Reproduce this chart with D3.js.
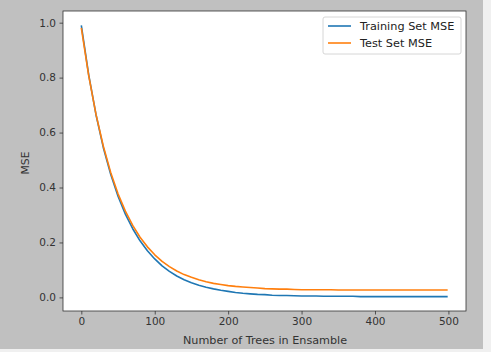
<html>
<head>
<title>mse-curves</title>
<script src="https://d3js.org/d3.v7.min.js"></script>
<style>
  body { margin: 0; background: #f0f0f0; }
  svg { display: block; }
</style>
</head>
<body>
<script>
// number of trees sampled every 10 (last point 499)
const trees = [0,10,20,30,40,50,60,70,80,90,100,110,120,130,140,150,160,170,180,190,
  200,210,220,230,240,250,260,270,280,290,300,310,320,330,340,350,360,370,380,390,
  400,410,420,430,440,450,460,470,480,490,499];
const trainMSE = [0.990,0.811,0.665,0.545,0.448,0.368,0.303,0.250,0.206,0.170,
  0.140,0.115,0.095,0.078,0.064,0.053,0.044,0.037,0.031,0.026,
  0.022,0.018,0.015,0.013,0.011,0.010,0.008,0.007,0.007,0.006,
  0.005,0.005,0.005,0.004,0.004,0.004,0.004,0.004,0.003,0.003,
  0.003,0.003,0.003,0.003,0.003,0.003,0.003,0.003,0.003,0.003,0.003];
const testMSE = [0.981,0.808,0.666,0.550,0.455,0.377,0.314,0.262,0.219,0.184,
  0.155,0.131,0.112,0.096,0.083,0.073,0.064,0.057,0.051,0.047,
  0.043,0.040,0.038,0.036,0.034,0.032,0.031,0.030,0.030,0.029,
  0.028,0.028,0.028,0.028,0.028,0.027,0.027,0.027,0.027,0.027,
  0.027,0.027,0.027,0.027,0.027,0.027,0.027,0.027,0.027,0.027,0.027];
const xTicks = [0,100,200,300,400,500];
const yTicks = [0.0,0.2,0.4,0.6,0.8,1.0];
const seriesNames = ["Training Set MSE","Test Set MSE"];
const colors = ["#1f77b4","#ff7f0e"];

const W = 491, H = 352;
const pLeft = 63, pRight = 466, pTop = 11, pBottom = 311;

const svg = d3.select("body").append("svg").attr("width", W).attr("height", H)
  .style("font-family", "DejaVu Sans, sans-serif");

svg.append("rect").attr("width", 483).attr("height", 349).attr("fill", "#c0c0c0");
svg.append("rect").attr("x", pLeft).attr("y", pTop)
  .attr("width", pRight - pLeft).attr("height", pBottom - pTop).attr("fill", "#fff");

const x = d3.scaleLinear().domain([-24.95, 523.95]).range([pLeft, pRight]);
const y = d3.scaleLinear().domain([-0.0495, 1.0425]).range([pBottom, pTop]);

const line = d3.line().x(d => x(d[0])).y(d => y(d[1]));
[trainMSE, testMSE].forEach((vals, i) => {
  svg.append("path")
    .datum(trees.map((t, j) => [t, vals[j]]))
    .attr("d", line)
    .attr("fill", "none")
    .attr("stroke", colors[i])
    .attr("stroke-width", 1.6)
    .attr("stroke-linejoin", "round");
});

const xAxis = d3.axisBottom(x).tickValues(xTicks).tickSize(3.5).tickPadding(3.5).tickFormat(d3.format("d"));
const yAxis = d3.axisLeft(y).tickValues(yTicks).tickSize(3.5).tickPadding(3.5).tickFormat(d3.format(".1f"));

const gx = svg.append("g").attr("transform", `translate(0,${pBottom})`).call(xAxis);
const gy = svg.append("g").attr("transform", `translate(${pLeft},0)`).call(yAxis);
[gx, gy].forEach(g => {
  g.select(".domain").remove();
  g.selectAll("line").attr("stroke", "#333").attr("stroke-width", 0.8);
  g.selectAll("text").attr("fill", "#333").style("font-size", "10.5px").style("font-family", "DejaVu Sans, sans-serif");
});

// frame
svg.append("rect").attr("x", pLeft).attr("y", pTop)
  .attr("width", pRight - pLeft).attr("height", pBottom - pTop)
  .attr("fill", "none").attr("stroke", "#333").attr("stroke-width", 0.8);

svg.append("text").attr("x", (pLeft + pRight) / 2 + 0.5).attr("y", 344)
  .attr("text-anchor", "middle").attr("fill", "#333").style("font-size", "11.2px")
  .text("Number of Trees in Ensamble");
svg.append("text").attr("transform", `translate(29,${(pTop + pBottom) / 2 + 2}) rotate(-90)`)
  .attr("text-anchor", "middle").attr("fill", "#333").style("font-size", "10.8px")
  .text("MSE");

// legend
const lg = svg.append("g");
lg.append("rect").attr("x", 323).attr("y", 17).attr("width", 138).attr("height", 37)
  .attr("rx", 2).attr("fill", "#fff").attr("fill-opacity", 0.8)
  .attr("stroke", "#ccc").attr("stroke-width", 0.8);
seriesNames.forEach((name, i) => {
  const cy = 26 + i * 17;
  lg.append("line").attr("x1", 328).attr("x2", 351).attr("y1", cy).attr("y2", cy)
    .attr("stroke", colors[i]).attr("stroke-width", 1.6);
  lg.append("text").attr("x", 360).attr("y", cy).attr("dy", "0.35em")
    .attr("fill", "#222").style("font-size", "11.3px").text(name);
});
</script>
</body>
</html>
